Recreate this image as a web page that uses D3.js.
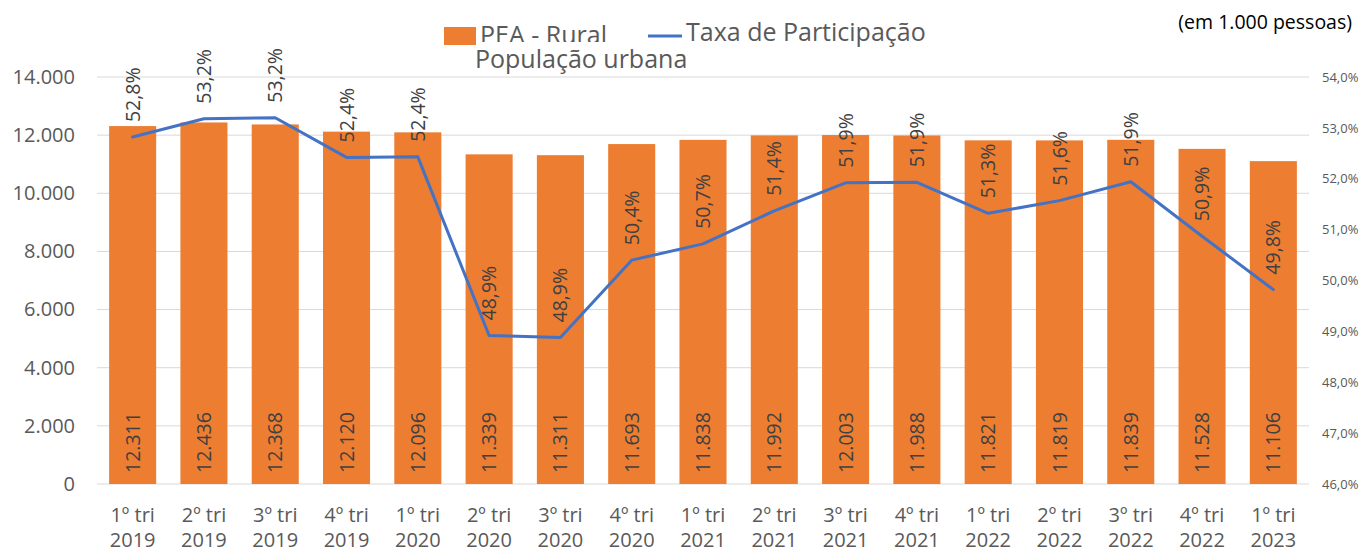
<!DOCTYPE html>
<html>
<head>
<meta charset="utf-8">
<script src="https://cdn.jsdelivr.net/npm/d3@7"></script>
<style>
  body { margin: 0; background: #fff; }
  svg text { font-family: "Open Sans", sans-serif; }
</style>
</head>
<body>
<svg id="chart" width="1363" height="552"></svg>
<script>
// chart data
const quarters = ["1º tri", "2º tri", "3º tri", "4º tri", "1º tri", "2º tri", "3º tri", "4º tri", "1º tri",
  "2º tri", "3º tri", "4º tri", "1º tri", "2º tri", "3º tri", "4º tri", "1º tri"];
const years = ["2019", "2019", "2019", "2019", "2020", "2020", "2020", "2020", "2021",
  "2021", "2021", "2021", "2022", "2022", "2022", "2022", "2023"];
const peaRural = [12311, 12436, 12368, 12120, 12096, 11339, 11311, 11693, 11838,
  11992, 12003, 11988, 11821, 11819, 11839, 11528, 11106];
const taxa = [52.82, 53.18, 53.20, 52.42, 52.43, 48.92, 48.88, 50.40, 50.72,
  51.37, 51.92, 51.93, 51.32, 51.57, 51.94, 50.87, 49.82];
const leftTicks = [0, 2000, 4000, 6000, 8000, 10000, 12000, 14000];
const rightTicks = [46, 47, 48, 49, 50, 51, 52, 53, 54];

const svg = d3.select("svg#chart");
const plotLeft = 97, plotRight = 1309, plotTop = 77, plotBottom = 484;
const grey = "#595959";
const fmtNum = d3.formatLocale({ decimal: ",", thousands: ".", grouping: [3], currency: ["", ""] });
const fmtInt = fmtNum.format(",d");
const fmtPct1 = v => v.toFixed(1).replace(".", ",") + "%";

const idx = d3.range(quarters.length);
const x = d3.scaleBand().domain(idx).range([plotLeft, plotRight]).paddingInner(0.34).paddingOuter(0.17);
const yL = d3.scaleLinear().domain([0, 14000]).range([plotBottom, plotTop]);
const yR = d3.scaleLinear().domain([46, 54]).range([plotBottom, plotTop]);

// gridlines
svg.append("g").selectAll("line")
  .data(leftTicks)
  .join("line")
  .attr("x1", plotLeft).attr("x2", plotRight)
  .attr("y1", d => yL(d)).attr("y2", d => yL(d))
  .attr("stroke", "#d9d9d9").attr("stroke-width", 1);

// left axis
const axL = svg.append("g").attr("transform", `translate(${plotLeft},0)`)
  .call(d3.axisLeft(yL).tickValues(leftTicks).tickFormat(fmtInt).tickSize(0).tickPadding(22));
axL.select(".domain").remove();
axL.selectAll("text").attr("fill", grey).style("font-size", "20px");

// right axis
const axR = svg.append("g").attr("transform", `translate(${plotRight},0)`)
  .call(d3.axisRight(yR).tickValues(rightTicks).tickFormat(d => d.toFixed(1).replace(".", ",") + "%").tickSize(0).tickPadding(13));
axR.select(".domain").remove();
axR.selectAll("text").attr("fill", grey).style("font-size", "13px");

// bars
svg.append("g").selectAll("rect")
  .data(peaRural)
  .join("rect")
  .attr("x", (d, i) => x(i))
  .attr("width", x.bandwidth())
  .attr("y", d => yL(d))
  .attr("height", d => yL(0) - yL(d))
  .attr("fill", "#ED7D31");

// bar value labels
svg.append("g").selectAll("text")
  .data(peaRural)
  .join("text")
  .attr("transform", (d, i) => `translate(${x(i) + x.bandwidth() / 2},${plotBottom - 11}) rotate(-90)`)
  .attr("dy", "0.36em")
  .attr("fill", "#404040")
  .style("font-size", "19.5px")
  .text(d => fmtInt(d));

// line
const line = d3.line()
  .x((d, i) => x(i) + x.bandwidth() / 2)
  .y(d => yR(d));
svg.append("path")
  .datum(taxa)
  .attr("d", line)
  .attr("fill", "none")
  .attr("stroke", "#4472C4")
  .attr("stroke-width", 3)
  .attr("stroke-linejoin", "round")
  .attr("stroke-linecap", "round");

// percentage labels
svg.append("g").selectAll("text")
  .data(taxa)
  .join("text")
  .attr("transform", (d, i) => `translate(${x(i) + x.bandwidth() / 2},${yR(d) - 15}) rotate(-90)`)
  .attr("dy", "0.36em")
  .attr("fill", "#404040")
  .style("font-size", "19.5px")
  .text(d => fmtPct1(d));

// x labels
const xl = svg.append("g").selectAll("g")
  .data(idx)
  .join("g")
  .attr("transform", i => `translate(${x(i) + x.bandwidth() / 2},0)`);
xl.append("text").attr("y", 522).attr("text-anchor", "middle").attr("fill", grey)
  .style("font-size", "20px").text(i => quarters[i]);
xl.append("text").attr("y", 547).attr("text-anchor", "middle").attr("fill", grey)
  .style("font-size", "20px").text(i => years[i]);

// legend
const lg = svg.append("g");
lg.append("rect").attr("x", 444).attr("y", 27).attr("width", 32).attr("height", 18).attr("fill", "#ED7D31");
lg.append("text").attr("x", 480).attr("y", 44).attr("fill", grey).style("font-size", "25px").text("PEA - Rural");
// the second line covers the bottom of the first one
lg.append("rect").attr("x", 477).attr("y", 42).attr("width", 230).attr("height", 32).attr("fill", "#fff");
lg.append("line").attr("x1", 648).attr("x2", 682).attr("y1", 36).attr("y2", 36)
  .attr("stroke", "#4472C4").attr("stroke-width", 3);
lg.append("text").attr("x", 686).attr("y", 41).attr("fill", grey).style("font-size", "25px").text("Taxa de Participação");
lg.append("text").attr("x", 475).attr("y", 68).attr("fill", grey).style("font-size", "25px").text("População urbana");

// unit note
svg.append("text").attr("x", 1352).attr("y", 29).attr("text-anchor", "end").attr("fill", "#000")
  .style("font-size", "19.5px").text("(em 1.000 pessoas)");
</script>
</body>
</html>
